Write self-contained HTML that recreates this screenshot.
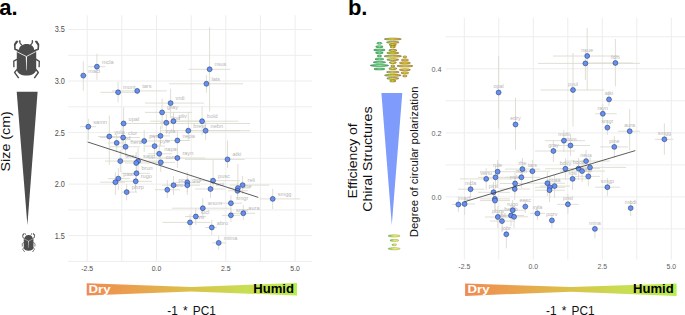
<!DOCTYPE html><html><head><meta charset="utf-8"><style>html,body{margin:0;padding:0;background:#fff;width:685px;height:315px;overflow:hidden;position:relative}svg text{font-family:"Liberation Sans", sans-serif}</style></head><body><svg width="685" height="315" viewBox="0 0 685 315" style="position:absolute;left:0;top:0" font-family='"Liberation Sans", sans-serif'>
<defs>
<linearGradient id="gbar" x1="0" x2="1" y1="0" y2="0"><stop offset="0" stop-color="#F08A52"/><stop offset="0.25" stop-color="#E8A44E"/><stop offset="0.5" stop-color="#DAC24A"/><stop offset="0.75" stop-color="#C8DE52"/><stop offset="1" stop-color="#B8EE50"/></linearGradient>
</defs>
<line x1="87.2" y1="15.2" x2="87.2" y2="261.5" stroke="#EDEDED" stroke-width="1"/>
<line x1="121.8" y1="15.2" x2="121.8" y2="261.5" stroke="#EDEDED" stroke-width="1"/>
<line x1="156.5" y1="15.2" x2="156.5" y2="261.5" stroke="#EDEDED" stroke-width="1"/>
<line x1="191.2" y1="15.2" x2="191.2" y2="261.5" stroke="#EDEDED" stroke-width="1"/>
<line x1="225.8" y1="15.2" x2="225.8" y2="261.5" stroke="#EDEDED" stroke-width="1"/>
<line x1="260.4" y1="15.2" x2="260.4" y2="261.5" stroke="#EDEDED" stroke-width="1"/>
<line x1="295.1" y1="15.2" x2="295.1" y2="261.5" stroke="#EDEDED" stroke-width="1"/>
<line x1="68.3" y1="261.4" x2="312" y2="261.4" stroke="#EDEDED" stroke-width="1"/>
<line x1="68.3" y1="235.6" x2="312" y2="235.6" stroke="#EDEDED" stroke-width="1"/>
<line x1="68.3" y1="209.9" x2="312" y2="209.9" stroke="#EDEDED" stroke-width="1"/>
<line x1="68.3" y1="184.1" x2="312" y2="184.1" stroke="#EDEDED" stroke-width="1"/>
<line x1="68.3" y1="158.3" x2="312" y2="158.3" stroke="#EDEDED" stroke-width="1"/>
<line x1="68.3" y1="132.6" x2="312" y2="132.6" stroke="#EDEDED" stroke-width="1"/>
<line x1="68.3" y1="106.8" x2="312" y2="106.8" stroke="#EDEDED" stroke-width="1"/>
<line x1="68.3" y1="81.0" x2="312" y2="81.0" stroke="#EDEDED" stroke-width="1"/>
<line x1="68.3" y1="55.3" x2="312" y2="55.3" stroke="#EDEDED" stroke-width="1"/>
<line x1="68.3" y1="29.5" x2="312" y2="29.5" stroke="#EDEDED" stroke-width="1"/>
<line x1="464.3" y1="17.7" x2="464.3" y2="259.5" stroke="#EDEDED" stroke-width="1"/>
<line x1="498.8" y1="17.7" x2="498.8" y2="259.5" stroke="#EDEDED" stroke-width="1"/>
<line x1="533.3" y1="17.7" x2="533.3" y2="259.5" stroke="#EDEDED" stroke-width="1"/>
<line x1="567.8" y1="17.7" x2="567.8" y2="259.5" stroke="#EDEDED" stroke-width="1"/>
<line x1="602.3" y1="17.7" x2="602.3" y2="259.5" stroke="#EDEDED" stroke-width="1"/>
<line x1="636.8" y1="17.7" x2="636.8" y2="259.5" stroke="#EDEDED" stroke-width="1"/>
<line x1="671.3" y1="17.7" x2="671.3" y2="259.5" stroke="#EDEDED" stroke-width="1"/>
<line x1="445.5" y1="228.9" x2="685" y2="228.9" stroke="#EDEDED" stroke-width="1"/>
<line x1="445.5" y1="196.9" x2="685" y2="196.9" stroke="#EDEDED" stroke-width="1"/>
<line x1="445.5" y1="164.9" x2="685" y2="164.9" stroke="#EDEDED" stroke-width="1"/>
<line x1="445.5" y1="132.9" x2="685" y2="132.9" stroke="#EDEDED" stroke-width="1"/>
<line x1="445.5" y1="100.8" x2="685" y2="100.8" stroke="#EDEDED" stroke-width="1"/>
<line x1="445.5" y1="68.8" x2="685" y2="68.8" stroke="#EDEDED" stroke-width="1"/>
<line x1="445.5" y1="36.8" x2="685" y2="36.8" stroke="#EDEDED" stroke-width="1"/>
<text x="64.8" y="238.7" font-size="8.6" text-anchor="end" fill="#4D4D4D" transform="translate(64.8,0) scale(0.85,1) translate(-64.8,0)">1.5</text>
<text x="64.8" y="187.2" font-size="8.6" text-anchor="end" fill="#4D4D4D" transform="translate(64.8,0) scale(0.85,1) translate(-64.8,0)">2.0</text>
<text x="64.8" y="135.6" font-size="8.6" text-anchor="end" fill="#4D4D4D" transform="translate(64.8,0) scale(0.85,1) translate(-64.8,0)">2.5</text>
<text x="64.8" y="84.1" font-size="8.6" text-anchor="end" fill="#4D4D4D" transform="translate(64.8,0) scale(0.85,1) translate(-64.8,0)">3.0</text>
<text x="64.8" y="32.5" font-size="8.6" text-anchor="end" fill="#4D4D4D" transform="translate(64.8,0) scale(0.85,1) translate(-64.8,0)">3.5</text>
<text x="87.2" y="270.7" font-size="6.9" text-anchor="middle" fill="#4D4D4D">-2.5</text>
<text x="156.5" y="270.7" font-size="6.9" text-anchor="middle" fill="#4D4D4D">0.0</text>
<text x="225.8" y="270.7" font-size="6.9" text-anchor="middle" fill="#4D4D4D">2.5</text>
<text x="295.1" y="270.7" font-size="6.9" text-anchor="middle" fill="#4D4D4D">5.0</text>
<text x="441.5" y="199.8" font-size="7.2" text-anchor="end" fill="#5E5E5E">0.0</text>
<text x="441.5" y="135.8" font-size="7.2" text-anchor="end" fill="#5E5E5E">0.2</text>
<text x="441.5" y="71.7" font-size="7.2" text-anchor="end" fill="#5E5E5E">0.4</text>
<text x="464.3" y="268.9" font-size="6.9" text-anchor="middle" fill="#5E5E5E">-2.5</text>
<text x="533.3" y="268.9" font-size="6.9" text-anchor="middle" fill="#5E5E5E">0.0</text>
<text x="602.3" y="268.9" font-size="6.9" text-anchor="middle" fill="#5E5E5E">2.5</text>
<text x="671.3" y="268.9" font-size="6.9" text-anchor="middle" fill="#5E5E5E">5.0</text>
<line x1="96.9" y1="53.7" x2="96.9" y2="79.9" stroke="#DCDBCF" stroke-width="0.9"/>
<line x1="87.7" y1="66.7" x2="105.4" y2="66.7" stroke="#DCDBCF" stroke-width="0.9"/>
<line x1="83.3" y1="61.2" x2="83.3" y2="90.7" stroke="#DCDBCF" stroke-width="0.9"/>
<line x1="80.5" y1="75.6" x2="87" y2="75.6" stroke="#DCDBCF" stroke-width="0.9"/>
<line x1="118.1" y1="81.8" x2="118.1" y2="102.5" stroke="#DCDBCF" stroke-width="0.9"/>
<line x1="100.4" y1="92.3" x2="136.8" y2="92.3" stroke="#DCDBCF" stroke-width="0.9"/>
<line x1="137.2" y1="88.7" x2="137.2" y2="94.6" stroke="#DCDBCF" stroke-width="0.9"/>
<line x1="112" y1="90.9" x2="166.7" y2="90.9" stroke="#DCDBCF" stroke-width="0.9"/>
<line x1="209.6" y1="27" x2="209.6" y2="111.4" stroke="#DCDBCF" stroke-width="0.9"/>
<line x1="188.7" y1="69.3" x2="230.2" y2="69.3" stroke="#DCDBCF" stroke-width="0.9"/>
<line x1="206.4" y1="75" x2="206.4" y2="92.7" stroke="#DCDBCF" stroke-width="0.9"/>
<line x1="169" y1="83.8" x2="243.1" y2="83.8" stroke="#DCDBCF" stroke-width="0.9"/>
<line x1="170.6" y1="88.7" x2="170.6" y2="118.3" stroke="#DCDBCF" stroke-width="0.9"/>
<line x1="145" y1="103.1" x2="204" y2="103.1" stroke="#DCDBCF" stroke-width="0.9"/>
<line x1="162.1" y1="98.6" x2="162.1" y2="129" stroke="#DCDBCF" stroke-width="0.9"/>
<line x1="145" y1="112.4" x2="192.2" y2="112.4" stroke="#DCDBCF" stroke-width="0.9"/>
<line x1="173.5" y1="112" x2="173.5" y2="131" stroke="#DCDBCF" stroke-width="0.9"/>
<line x1="150" y1="121.2" x2="200" y2="121.2" stroke="#DCDBCF" stroke-width="0.9"/>
<line x1="166.3" y1="114" x2="166.3" y2="134" stroke="#DCDBCF" stroke-width="0.9"/>
<line x1="160" y1="122.8" x2="172" y2="122.8" stroke="#DCDBCF" stroke-width="0.9"/>
<line x1="202.1" y1="106.4" x2="202.1" y2="135" stroke="#DCDBCF" stroke-width="0.9"/>
<line x1="170" y1="121.2" x2="238.4" y2="121.2" stroke="#DCDBCF" stroke-width="0.9"/>
<line x1="205.6" y1="122" x2="205.6" y2="140" stroke="#DCDBCF" stroke-width="0.9"/>
<line x1="185" y1="130.7" x2="250" y2="130.7" stroke="#DCDBCF" stroke-width="0.9"/>
<line x1="188.3" y1="112" x2="188.3" y2="140" stroke="#DCDBCF" stroke-width="0.9"/>
<line x1="160" y1="130.7" x2="240" y2="130.7" stroke="#DCDBCF" stroke-width="0.9"/>
<line x1="88.3" y1="118.8" x2="88.3" y2="140" stroke="#DCDBCF" stroke-width="0.9"/>
<line x1="80" y1="126.7" x2="96" y2="126.7" stroke="#DCDBCF" stroke-width="0.9"/>
<line x1="123.6" y1="107.4" x2="123.6" y2="142" stroke="#DCDBCF" stroke-width="0.9"/>
<line x1="120" y1="123.5" x2="250" y2="123.5" stroke="#DCDBCF" stroke-width="0.9"/>
<line x1="109.3" y1="115.6" x2="109.3" y2="165" stroke="#DCDBCF" stroke-width="0.9"/>
<line x1="98" y1="136.5" x2="120" y2="136.5" stroke="#DCDBCF" stroke-width="0.9"/>
<line x1="123.1" y1="126" x2="123.1" y2="150" stroke="#DCDBCF" stroke-width="0.9"/>
<line x1="100" y1="137.5" x2="140" y2="137.5" stroke="#DCDBCF" stroke-width="0.9"/>
<line x1="116.7" y1="134" x2="116.7" y2="152" stroke="#DCDBCF" stroke-width="0.9"/>
<line x1="108" y1="142.9" x2="126" y2="142.9" stroke="#DCDBCF" stroke-width="0.9"/>
<line x1="125.6" y1="138" x2="125.6" y2="156" stroke="#DCDBCF" stroke-width="0.9"/>
<line x1="110" y1="146.8" x2="140" y2="146.8" stroke="#DCDBCF" stroke-width="0.9"/>
<line x1="144.2" y1="130" x2="144.2" y2="152" stroke="#DCDBCF" stroke-width="0.9"/>
<line x1="130" y1="141.0" x2="160" y2="141.0" stroke="#DCDBCF" stroke-width="0.9"/>
<line x1="154.6" y1="136" x2="154.6" y2="156" stroke="#DCDBCF" stroke-width="0.9"/>
<line x1="145" y1="146.1" x2="165" y2="146.1" stroke="#DCDBCF" stroke-width="0.9"/>
<line x1="160.5" y1="126" x2="160.5" y2="146" stroke="#DCDBCF" stroke-width="0.9"/>
<line x1="150" y1="135.9" x2="170" y2="135.9" stroke="#DCDBCF" stroke-width="0.9"/>
<line x1="159.2" y1="144" x2="159.2" y2="164" stroke="#DCDBCF" stroke-width="0.9"/>
<line x1="148" y1="153.8" x2="172" y2="153.8" stroke="#DCDBCF" stroke-width="0.9"/>
<line x1="120.3" y1="150" x2="120.3" y2="172" stroke="#DCDBCF" stroke-width="0.9"/>
<line x1="105" y1="161.1" x2="140" y2="161.1" stroke="#DCDBCF" stroke-width="0.9"/>
<line x1="138.1" y1="148" x2="138.1" y2="172" stroke="#DCDBCF" stroke-width="0.9"/>
<line x1="120" y1="161.1" x2="160" y2="161.1" stroke="#DCDBCF" stroke-width="0.9"/>
<line x1="136.2" y1="152" x2="136.2" y2="174" stroke="#DCDBCF" stroke-width="0.9"/>
<line x1="125" y1="163.0" x2="150" y2="163.0" stroke="#DCDBCF" stroke-width="0.9"/>
<line x1="160.8" y1="152" x2="160.8" y2="172" stroke="#DCDBCF" stroke-width="0.9"/>
<line x1="150" y1="162.4" x2="175" y2="162.4" stroke="#DCDBCF" stroke-width="0.9"/>
<line x1="136.5" y1="164" x2="136.5" y2="182" stroke="#DCDBCF" stroke-width="0.9"/>
<line x1="122" y1="173.3" x2="150" y2="173.3" stroke="#DCDBCF" stroke-width="0.9"/>
<line x1="118.3" y1="168" x2="118.3" y2="190" stroke="#DCDBCF" stroke-width="0.9"/>
<line x1="108" y1="178.6" x2="130" y2="178.6" stroke="#DCDBCF" stroke-width="0.9"/>
<line x1="115.4" y1="172" x2="115.4" y2="195" stroke="#DCDBCF" stroke-width="0.9"/>
<line x1="100" y1="182.2" x2="125" y2="182.2" stroke="#DCDBCF" stroke-width="0.9"/>
<line x1="135.7" y1="172" x2="135.7" y2="192" stroke="#DCDBCF" stroke-width="0.9"/>
<line x1="120" y1="181.3" x2="152" y2="181.3" stroke="#DCDBCF" stroke-width="0.9"/>
<line x1="126.7" y1="184" x2="126.7" y2="200.3" stroke="#DCDBCF" stroke-width="0.9"/>
<line x1="121.6" y1="192.1" x2="137.1" y2="192.1" stroke="#DCDBCF" stroke-width="0.9"/>
<line x1="177.4" y1="130" x2="177.4" y2="150" stroke="#DCDBCF" stroke-width="0.9"/>
<line x1="165" y1="140.5" x2="190" y2="140.5" stroke="#DCDBCF" stroke-width="0.9"/>
<line x1="177.4" y1="148" x2="177.4" y2="168" stroke="#DCDBCF" stroke-width="0.9"/>
<line x1="150" y1="158.0" x2="205" y2="158.0" stroke="#DCDBCF" stroke-width="0.9"/>
<line x1="227.5" y1="140.5" x2="227.5" y2="168" stroke="#DCDBCF" stroke-width="0.9"/>
<line x1="185" y1="159.4" x2="244.6" y2="159.4" stroke="#DCDBCF" stroke-width="0.9"/>
<line x1="213.1" y1="160" x2="213.1" y2="190" stroke="#DCDBCF" stroke-width="0.9"/>
<line x1="200" y1="180.7" x2="240" y2="180.7" stroke="#DCDBCF" stroke-width="0.9"/>
<line x1="187.3" y1="172" x2="187.3" y2="192" stroke="#DCDBCF" stroke-width="0.9"/>
<line x1="175" y1="182.4" x2="200" y2="182.4" stroke="#DCDBCF" stroke-width="0.9"/>
<line x1="187.3" y1="176" x2="187.3" y2="195" stroke="#DCDBCF" stroke-width="0.9"/>
<line x1="175" y1="185.2" x2="200" y2="185.2" stroke="#DCDBCF" stroke-width="0.9"/>
<line x1="173.5" y1="176" x2="173.5" y2="195" stroke="#DCDBCF" stroke-width="0.9"/>
<line x1="162" y1="185.2" x2="185" y2="185.2" stroke="#DCDBCF" stroke-width="0.9"/>
<line x1="210.5" y1="178" x2="210.5" y2="198" stroke="#DCDBCF" stroke-width="0.9"/>
<line x1="195" y1="189.0" x2="225" y2="189.0" stroke="#DCDBCF" stroke-width="0.9"/>
<line x1="167.3" y1="180" x2="167.3" y2="198" stroke="#DCDBCF" stroke-width="0.9"/>
<line x1="155" y1="189.8" x2="180" y2="189.8" stroke="#DCDBCF" stroke-width="0.9"/>
<line x1="202.8" y1="198" x2="202.8" y2="218" stroke="#DCDBCF" stroke-width="0.9"/>
<line x1="172" y1="208.2" x2="229.7" y2="208.2" stroke="#DCDBCF" stroke-width="0.9"/>
<line x1="195.8" y1="208" x2="195.8" y2="225" stroke="#DCDBCF" stroke-width="0.9"/>
<line x1="185" y1="216.5" x2="206" y2="216.5" stroke="#DCDBCF" stroke-width="0.9"/>
<line x1="190.0" y1="214" x2="190.0" y2="230" stroke="#DCDBCF" stroke-width="0.9"/>
<line x1="162.5" y1="222.4" x2="210.5" y2="222.4" stroke="#DCDBCF" stroke-width="0.9"/>
<line x1="211.8" y1="220" x2="211.8" y2="235" stroke="#DCDBCF" stroke-width="0.9"/>
<line x1="205.3" y1="227.5" x2="216.9" y2="227.5" stroke="#DCDBCF" stroke-width="0.9"/>
<line x1="218.7" y1="236" x2="218.7" y2="250" stroke="#DCDBCF" stroke-width="0.9"/>
<line x1="212" y1="242.9" x2="226" y2="242.9" stroke="#DCDBCF" stroke-width="0.9"/>
<line x1="230.9" y1="195" x2="230.9" y2="212" stroke="#DCDBCF" stroke-width="0.9"/>
<line x1="220" y1="203.2" x2="242" y2="203.2" stroke="#DCDBCF" stroke-width="0.9"/>
<line x1="230.9" y1="208" x2="230.9" y2="222" stroke="#DCDBCF" stroke-width="0.9"/>
<line x1="222" y1="215.3" x2="240" y2="215.3" stroke="#DCDBCF" stroke-width="0.9"/>
<line x1="243.3" y1="205" x2="243.3" y2="220" stroke="#DCDBCF" stroke-width="0.9"/>
<line x1="232" y1="213.3" x2="255" y2="213.3" stroke="#DCDBCF" stroke-width="0.9"/>
<line x1="242.6" y1="176" x2="242.6" y2="194" stroke="#DCDBCF" stroke-width="0.9"/>
<line x1="230" y1="185.1" x2="269.3" y2="185.1" stroke="#DCDBCF" stroke-width="0.9"/>
<line x1="237.9" y1="163.8" x2="237.9" y2="196" stroke="#DCDBCF" stroke-width="0.9"/>
<line x1="228" y1="188.1" x2="250" y2="188.1" stroke="#DCDBCF" stroke-width="0.9"/>
<line x1="237.5" y1="182" x2="237.5" y2="198" stroke="#DCDBCF" stroke-width="0.9"/>
<line x1="228" y1="190.8" x2="248" y2="190.8" stroke="#DCDBCF" stroke-width="0.9"/>
<line x1="272.7" y1="188.8" x2="272.7" y2="209" stroke="#DCDBCF" stroke-width="0.9"/>
<line x1="259.7" y1="198.9" x2="300.2" y2="198.9" stroke="#DCDBCF" stroke-width="0.9"/>
<text x="101.9" y="63.7" font-size="5.6" fill="#B6B6B6">mcla</text>
<text x="88.3" y="72.6" font-size="5.6" fill="#B6B6B6">macl</text>
<text x="123.1" y="89.3" font-size="5.6" fill="#B6B6B6">mont</text>
<text x="142.2" y="87.9" font-size="5.6" fill="#B6B6B6">tars</text>
<text x="214.6" y="66.3" font-size="5.6" fill="#B6B6B6">nsus</text>
<text x="211.4" y="80.8" font-size="5.6" fill="#B6B6B6">lats</text>
<text x="175.6" y="100.1" font-size="5.6" fill="#B6B6B6">vrdi</text>
<text x="167.1" y="109.4" font-size="5.6" fill="#B6B6B6">gray</text>
<text x="178.5" y="118.2" font-size="5.6" fill="#B6B6B6">pliv</text>
<text x="171.3" y="119.8" font-size="5.6" fill="#B6B6B6">lind</text>
<text x="207.1" y="118.2" font-size="5.6" fill="#B6B6B6">bold</text>
<text x="210.6" y="127.7" font-size="5.6" fill="#B6B6B6">nebn</text>
<text x="193.3" y="127.7" font-size="5.6" fill="#B6B6B6">brevi</text>
<text x="93.3" y="123.7" font-size="5.6" fill="#B6B6B6">samn</text>
<text x="128.6" y="120.5" font-size="5.6" fill="#B6B6B6">opal</text>
<text x="114.3" y="133.5" font-size="5.6" fill="#B6B6B6">yola</text>
<text x="128.1" y="134.5" font-size="5.6" fill="#B6B6B6">clor</text>
<text x="121.7" y="139.9" font-size="5.6" fill="#B6B6B6">jind</text>
<text x="130.6" y="143.8" font-size="5.6" fill="#B6B6B6">hera</text>
<text x="149.2" y="138.0" font-size="5.6" fill="#B6B6B6">pera</text>
<text x="159.6" y="143.1" font-size="5.6" fill="#B6B6B6">pyle</text>
<text x="165.5" y="132.9" font-size="5.6" fill="#B6B6B6">xyla</text>
<text x="164.2" y="150.8" font-size="5.6" fill="#B6B6B6">napa</text>
<text x="125.3" y="158.1" font-size="5.6" fill="#B6B6B6">tenu</text>
<text x="143.1" y="158.1" font-size="5.6" fill="#B6B6B6">sapp</text>
<text x="165.8" y="159.4" font-size="5.6" fill="#B6B6B6">coro</text>
<text x="141.5" y="170.3" font-size="5.6" fill="#B6B6B6">brun</text>
<text x="123.3" y="175.6" font-size="5.6" fill="#B6B6B6">paar</text>
<text x="140.7" y="178.3" font-size="5.6" fill="#B6B6B6">rugo</text>
<text x="131.7" y="189.1" font-size="5.6" fill="#B6B6B6">pbzp</text>
<text x="182.4" y="137.5" font-size="5.6" fill="#B6B6B6">nepa</text>
<text x="182.4" y="155.0" font-size="5.6" fill="#B6B6B6">rayn</text>
<text x="232.5" y="156.4" font-size="5.6" fill="#B6B6B6">atki</text>
<text x="218.1" y="177.7" font-size="5.6" fill="#B6B6B6">pusc</text>
<text x="192.3" y="182.2" font-size="5.6" fill="#B6B6B6">gigl</text>
<text x="178.5" y="182.2" font-size="5.6" fill="#B6B6B6">pcni</text>
<text x="215.5" y="186.0" font-size="5.6" fill="#B6B6B6">smi</text>
<text x="172.3" y="186.8" font-size="5.6" fill="#B6B6B6">caro</text>
<text x="207.8" y="205.2" font-size="5.6" fill="#B6B6B6">anom</text>
<text x="200.8" y="213.5" font-size="5.6" fill="#B6B6B6">lucl</text>
<text x="195.0" y="219.4" font-size="5.6" fill="#B6B6B6">rivo</text>
<text x="216.8" y="224.5" font-size="5.6" fill="#B6B6B6">abro</text>
<text x="223.7" y="239.9" font-size="5.6" fill="#B6B6B6">mima</text>
<text x="235.9" y="200.2" font-size="5.6" fill="#B6B6B6">smgr</text>
<text x="235.9" y="212.3" font-size="5.6" fill="#B6B6B6">smer</text>
<text x="248.3" y="210.3" font-size="5.6" fill="#B6B6B6">aura</text>
<text x="247.6" y="182.1" font-size="5.6" fill="#B6B6B6">reli</text>
<text x="242.5" y="187.8" font-size="5.6" fill="#B6B6B6">tine</text>
<text x="277.7" y="195.9" font-size="5.6" fill="#B6B6B6">smgg</text>
<circle cx="96.9" cy="66.7" r="2.45" fill="#6490F6" stroke="#2A3A6E" stroke-width="0.6"/>
<circle cx="83.3" cy="75.6" r="2.45" fill="#6490F6" stroke="#2A3A6E" stroke-width="0.6"/>
<circle cx="118.1" cy="92.3" r="2.45" fill="#6490F6" stroke="#2A3A6E" stroke-width="0.6"/>
<circle cx="137.2" cy="90.9" r="2.45" fill="#6490F6" stroke="#2A3A6E" stroke-width="0.6"/>
<circle cx="209.6" cy="69.3" r="2.45" fill="#6490F6" stroke="#2A3A6E" stroke-width="0.6"/>
<circle cx="206.4" cy="83.8" r="2.45" fill="#6490F6" stroke="#2A3A6E" stroke-width="0.6"/>
<circle cx="170.6" cy="103.1" r="2.45" fill="#6490F6" stroke="#2A3A6E" stroke-width="0.6"/>
<circle cx="162.1" cy="112.4" r="2.45" fill="#6490F6" stroke="#2A3A6E" stroke-width="0.6"/>
<circle cx="173.5" cy="121.2" r="2.45" fill="#6490F6" stroke="#2A3A6E" stroke-width="0.6"/>
<circle cx="166.3" cy="122.8" r="2.45" fill="#6490F6" stroke="#2A3A6E" stroke-width="0.6"/>
<circle cx="202.1" cy="121.2" r="2.45" fill="#6490F6" stroke="#2A3A6E" stroke-width="0.6"/>
<circle cx="205.6" cy="130.7" r="2.45" fill="#6490F6" stroke="#2A3A6E" stroke-width="0.6"/>
<circle cx="188.3" cy="130.7" r="2.45" fill="#6490F6" stroke="#2A3A6E" stroke-width="0.6"/>
<circle cx="88.3" cy="126.7" r="2.45" fill="#6490F6" stroke="#2A3A6E" stroke-width="0.6"/>
<circle cx="123.6" cy="123.5" r="2.45" fill="#6490F6" stroke="#2A3A6E" stroke-width="0.6"/>
<circle cx="109.3" cy="136.5" r="2.45" fill="#6490F6" stroke="#2A3A6E" stroke-width="0.6"/>
<circle cx="123.1" cy="137.5" r="2.45" fill="#6490F6" stroke="#2A3A6E" stroke-width="0.6"/>
<circle cx="116.7" cy="142.9" r="2.45" fill="#6490F6" stroke="#2A3A6E" stroke-width="0.6"/>
<circle cx="125.6" cy="146.8" r="2.45" fill="#6490F6" stroke="#2A3A6E" stroke-width="0.6"/>
<circle cx="144.2" cy="141.0" r="2.45" fill="#6490F6" stroke="#2A3A6E" stroke-width="0.6"/>
<circle cx="154.6" cy="146.1" r="2.45" fill="#6490F6" stroke="#2A3A6E" stroke-width="0.6"/>
<circle cx="160.5" cy="135.9" r="2.45" fill="#6490F6" stroke="#2A3A6E" stroke-width="0.6"/>
<circle cx="159.2" cy="153.8" r="2.45" fill="#6490F6" stroke="#2A3A6E" stroke-width="0.6"/>
<circle cx="120.3" cy="161.1" r="2.45" fill="#6490F6" stroke="#2A3A6E" stroke-width="0.6"/>
<circle cx="138.1" cy="161.1" r="2.45" fill="#6490F6" stroke="#2A3A6E" stroke-width="0.6"/>
<circle cx="136.2" cy="163.0" r="2.45" fill="#6490F6" stroke="#2A3A6E" stroke-width="0.6"/>
<circle cx="160.8" cy="162.4" r="2.45" fill="#6490F6" stroke="#2A3A6E" stroke-width="0.6"/>
<circle cx="136.5" cy="173.3" r="2.45" fill="#6490F6" stroke="#2A3A6E" stroke-width="0.6"/>
<circle cx="118.3" cy="178.6" r="2.45" fill="#6490F6" stroke="#2A3A6E" stroke-width="0.6"/>
<circle cx="115.4" cy="182.2" r="2.45" fill="#6490F6" stroke="#2A3A6E" stroke-width="0.6"/>
<circle cx="135.7" cy="181.3" r="2.45" fill="#6490F6" stroke="#2A3A6E" stroke-width="0.6"/>
<circle cx="126.7" cy="192.1" r="2.45" fill="#6490F6" stroke="#2A3A6E" stroke-width="0.6"/>
<circle cx="177.4" cy="140.5" r="2.45" fill="#6490F6" stroke="#2A3A6E" stroke-width="0.6"/>
<circle cx="177.4" cy="158.0" r="2.45" fill="#6490F6" stroke="#2A3A6E" stroke-width="0.6"/>
<circle cx="227.5" cy="159.4" r="2.45" fill="#6490F6" stroke="#2A3A6E" stroke-width="0.6"/>
<circle cx="213.1" cy="180.7" r="2.45" fill="#6490F6" stroke="#2A3A6E" stroke-width="0.6"/>
<circle cx="187.3" cy="182.4" r="2.45" fill="#6490F6" stroke="#2A3A6E" stroke-width="0.6"/>
<circle cx="187.3" cy="185.2" r="2.45" fill="#6490F6" stroke="#2A3A6E" stroke-width="0.6"/>
<circle cx="173.5" cy="185.2" r="2.45" fill="#6490F6" stroke="#2A3A6E" stroke-width="0.6"/>
<circle cx="210.5" cy="189.0" r="2.45" fill="#6490F6" stroke="#2A3A6E" stroke-width="0.6"/>
<circle cx="167.3" cy="189.8" r="2.45" fill="#6490F6" stroke="#2A3A6E" stroke-width="0.6"/>
<circle cx="202.8" cy="208.2" r="2.45" fill="#6490F6" stroke="#2A3A6E" stroke-width="0.6"/>
<circle cx="195.8" cy="216.5" r="2.45" fill="#6490F6" stroke="#2A3A6E" stroke-width="0.6"/>
<circle cx="190.0" cy="222.4" r="2.45" fill="#6490F6" stroke="#2A3A6E" stroke-width="0.6"/>
<circle cx="211.8" cy="227.5" r="2.45" fill="#6490F6" stroke="#2A3A6E" stroke-width="0.6"/>
<circle cx="218.7" cy="242.9" r="2.45" fill="#6490F6" stroke="#2A3A6E" stroke-width="0.6"/>
<circle cx="230.9" cy="203.2" r="2.45" fill="#6490F6" stroke="#2A3A6E" stroke-width="0.6"/>
<circle cx="230.9" cy="215.3" r="2.45" fill="#6490F6" stroke="#2A3A6E" stroke-width="0.6"/>
<circle cx="243.3" cy="213.3" r="2.45" fill="#6490F6" stroke="#2A3A6E" stroke-width="0.6"/>
<circle cx="242.6" cy="185.1" r="2.45" fill="#6490F6" stroke="#2A3A6E" stroke-width="0.6"/>
<circle cx="237.9" cy="188.1" r="2.45" fill="#6490F6" stroke="#2A3A6E" stroke-width="0.6"/>
<circle cx="237.5" cy="190.8" r="2.45" fill="#6490F6" stroke="#2A3A6E" stroke-width="0.6"/>
<circle cx="272.7" cy="198.9" r="2.45" fill="#6490F6" stroke="#2A3A6E" stroke-width="0.6"/>
<line x1="498.6" y1="56" x2="498.6" y2="128.6" stroke="#DCDBCF" stroke-width="0.9"/>
<line x1="515.5" y1="97.7" x2="515.5" y2="150" stroke="#DCDBCF" stroke-width="0.9"/>
<line x1="587.2" y1="28" x2="587.2" y2="90" stroke="#DCDBCF" stroke-width="0.9"/>
<line x1="553" y1="56.0" x2="619" y2="56.0" stroke="#DCDBCF" stroke-width="0.9"/>
<line x1="585.4" y1="50" x2="585.4" y2="80" stroke="#DCDBCF" stroke-width="0.9"/>
<line x1="538" y1="63.4" x2="640" y2="63.4" stroke="#DCDBCF" stroke-width="0.9"/>
<line x1="615.4" y1="39" x2="615.4" y2="86.4" stroke="#DCDBCF" stroke-width="0.9"/>
<line x1="587" y1="63.0" x2="633" y2="63.0" stroke="#DCDBCF" stroke-width="0.9"/>
<line x1="573.0" y1="53" x2="573.0" y2="126.5" stroke="#DCDBCF" stroke-width="0.9"/>
<line x1="540.6" y1="90.0" x2="604.3" y2="90.0" stroke="#DCDBCF" stroke-width="0.9"/>
<line x1="609.0" y1="92" x2="609.0" y2="106" stroke="#DCDBCF" stroke-width="0.9"/>
<line x1="602.8" y1="104" x2="602.8" y2="124" stroke="#DCDBCF" stroke-width="0.9"/>
<line x1="595" y1="113.8" x2="616.7" y2="113.8" stroke="#DCDBCF" stroke-width="0.9"/>
<line x1="607.4" y1="120" x2="607.4" y2="135" stroke="#DCDBCF" stroke-width="0.9"/>
<line x1="629.7" y1="109" x2="629.7" y2="150.6" stroke="#DCDBCF" stroke-width="0.9"/>
<line x1="618" y1="131.2" x2="640" y2="131.2" stroke="#DCDBCF" stroke-width="0.9"/>
<line x1="664.4" y1="123.5" x2="664.4" y2="154.8" stroke="#DCDBCF" stroke-width="0.9"/>
<line x1="654.9" y1="139.3" x2="673.4" y2="139.3" stroke="#DCDBCF" stroke-width="0.9"/>
<line x1="614.3" y1="136" x2="614.3" y2="158" stroke="#DCDBCF" stroke-width="0.9"/>
<line x1="600" y1="146.9" x2="628" y2="146.9" stroke="#DCDBCF" stroke-width="0.9"/>
<line x1="563.9" y1="130" x2="563.9" y2="152" stroke="#DCDBCF" stroke-width="0.9"/>
<line x1="545" y1="140.7" x2="585" y2="140.7" stroke="#DCDBCF" stroke-width="0.9"/>
<line x1="570.5" y1="134" x2="570.5" y2="156" stroke="#DCDBCF" stroke-width="0.9"/>
<line x1="555" y1="145.5" x2="590" y2="145.5" stroke="#DCDBCF" stroke-width="0.9"/>
<line x1="553.4" y1="140" x2="553.4" y2="162" stroke="#DCDBCF" stroke-width="0.9"/>
<line x1="535" y1="151.0" x2="575" y2="151.0" stroke="#DCDBCF" stroke-width="0.9"/>
<line x1="586.1" y1="150" x2="586.1" y2="172" stroke="#DCDBCF" stroke-width="0.9"/>
<line x1="565" y1="161.1" x2="610" y2="161.1" stroke="#DCDBCF" stroke-width="0.9"/>
<line x1="565.4" y1="158" x2="565.4" y2="180" stroke="#DCDBCF" stroke-width="0.9"/>
<line x1="545" y1="168.8" x2="590" y2="168.8" stroke="#DCDBCF" stroke-width="0.9"/>
<line x1="578.6" y1="158" x2="578.6" y2="180" stroke="#DCDBCF" stroke-width="0.9"/>
<line x1="560" y1="168.6" x2="600" y2="168.6" stroke="#DCDBCF" stroke-width="0.9"/>
<line x1="582.1" y1="160" x2="582.1" y2="182" stroke="#DCDBCF" stroke-width="0.9"/>
<line x1="560" y1="171.1" x2="605" y2="171.1" stroke="#DCDBCF" stroke-width="0.9"/>
<line x1="590.0" y1="156" x2="590.0" y2="180" stroke="#DCDBCF" stroke-width="0.9"/>
<line x1="575" y1="167.4" x2="626" y2="167.4" stroke="#DCDBCF" stroke-width="0.9"/>
<line x1="588.3" y1="166" x2="588.3" y2="186" stroke="#DCDBCF" stroke-width="0.9"/>
<line x1="575" y1="176.4" x2="600" y2="176.4" stroke="#DCDBCF" stroke-width="0.9"/>
<line x1="572.6" y1="168" x2="572.6" y2="190" stroke="#DCDBCF" stroke-width="0.9"/>
<line x1="555" y1="178.9" x2="590" y2="178.9" stroke="#DCDBCF" stroke-width="0.9"/>
<line x1="532.4" y1="160" x2="532.4" y2="182" stroke="#DCDBCF" stroke-width="0.9"/>
<line x1="515" y1="171.2" x2="550" y2="171.2" stroke="#DCDBCF" stroke-width="0.9"/>
<line x1="522.4" y1="158" x2="522.4" y2="180" stroke="#DCDBCF" stroke-width="0.9"/>
<line x1="505" y1="169.1" x2="540" y2="169.1" stroke="#DCDBCF" stroke-width="0.9"/>
<line x1="521.4" y1="166" x2="521.4" y2="188" stroke="#DCDBCF" stroke-width="0.9"/>
<line x1="505" y1="177.3" x2="540" y2="177.3" stroke="#DCDBCF" stroke-width="0.9"/>
<line x1="497.6" y1="160" x2="497.6" y2="184" stroke="#DCDBCF" stroke-width="0.9"/>
<line x1="480" y1="171.7" x2="515" y2="171.7" stroke="#DCDBCF" stroke-width="0.9"/>
<line x1="486.2" y1="168" x2="486.2" y2="190" stroke="#DCDBCF" stroke-width="0.9"/>
<line x1="460" y1="178.9" x2="510" y2="178.9" stroke="#DCDBCF" stroke-width="0.9"/>
<line x1="495.5" y1="166" x2="495.5" y2="188" stroke="#DCDBCF" stroke-width="0.9"/>
<line x1="478" y1="177.3" x2="512" y2="177.3" stroke="#DCDBCF" stroke-width="0.9"/>
<line x1="515.1" y1="172" x2="515.1" y2="194" stroke="#DCDBCF" stroke-width="0.9"/>
<line x1="500" y1="183.5" x2="530" y2="183.5" stroke="#DCDBCF" stroke-width="0.9"/>
<line x1="514.7" y1="178" x2="514.7" y2="200" stroke="#DCDBCF" stroke-width="0.9"/>
<line x1="500" y1="189.0" x2="530" y2="189.0" stroke="#DCDBCF" stroke-width="0.9"/>
<line x1="470.6" y1="180" x2="470.6" y2="198" stroke="#DCDBCF" stroke-width="0.9"/>
<line x1="458" y1="189.2" x2="484" y2="189.2" stroke="#DCDBCF" stroke-width="0.9"/>
<line x1="493.5" y1="182" x2="493.5" y2="202" stroke="#DCDBCF" stroke-width="0.9"/>
<line x1="478" y1="192.3" x2="510" y2="192.3" stroke="#DCDBCF" stroke-width="0.9"/>
<line x1="494.9" y1="188" x2="494.9" y2="210" stroke="#DCDBCF" stroke-width="0.9"/>
<line x1="480" y1="198.9" x2="510" y2="198.9" stroke="#DCDBCF" stroke-width="0.9"/>
<line x1="495.0" y1="190" x2="495.0" y2="212" stroke="#DCDBCF" stroke-width="0.9"/>
<line x1="480" y1="200.6" x2="510" y2="200.6" stroke="#DCDBCF" stroke-width="0.9"/>
<line x1="458.4" y1="196" x2="458.4" y2="212" stroke="#DCDBCF" stroke-width="0.9"/>
<line x1="452" y1="204.5" x2="466" y2="204.5" stroke="#DCDBCF" stroke-width="0.9"/>
<line x1="464.6" y1="196" x2="464.6" y2="215" stroke="#DCDBCF" stroke-width="0.9"/>
<line x1="455" y1="204.0" x2="475" y2="204.0" stroke="#DCDBCF" stroke-width="0.9"/>
<line x1="512.7" y1="200" x2="512.7" y2="220" stroke="#DCDBCF" stroke-width="0.9"/>
<line x1="500" y1="210.2" x2="525" y2="210.2" stroke="#DCDBCF" stroke-width="0.9"/>
<line x1="511.0" y1="205" x2="511.0" y2="226" stroke="#DCDBCF" stroke-width="0.9"/>
<line x1="498" y1="215.5" x2="524" y2="215.5" stroke="#DCDBCF" stroke-width="0.9"/>
<line x1="514.1" y1="206" x2="514.1" y2="228" stroke="#DCDBCF" stroke-width="0.9"/>
<line x1="500" y1="216.8" x2="528" y2="216.8" stroke="#DCDBCF" stroke-width="0.9"/>
<line x1="497.8" y1="206" x2="497.8" y2="228" stroke="#DCDBCF" stroke-width="0.9"/>
<line x1="485" y1="217.0" x2="510" y2="217.0" stroke="#DCDBCF" stroke-width="0.9"/>
<line x1="502.0" y1="210" x2="502.0" y2="232" stroke="#DCDBCF" stroke-width="0.9"/>
<line x1="490" y1="221.1" x2="515" y2="221.1" stroke="#DCDBCF" stroke-width="0.9"/>
<line x1="506.3" y1="229.8" x2="506.3" y2="248.4" stroke="#DCDBCF" stroke-width="0.9"/>
<line x1="525.3" y1="200" x2="525.3" y2="213" stroke="#DCDBCF" stroke-width="0.9"/>
<line x1="547.4" y1="172" x2="547.4" y2="196" stroke="#DCDBCF" stroke-width="0.9"/>
<line x1="530" y1="183.2" x2="565" y2="183.2" stroke="#DCDBCF" stroke-width="0.9"/>
<line x1="554.6" y1="175" x2="554.6" y2="198" stroke="#DCDBCF" stroke-width="0.9"/>
<line x1="540" y1="186.1" x2="570" y2="186.1" stroke="#DCDBCF" stroke-width="0.9"/>
<line x1="549.9" y1="176" x2="549.9" y2="198" stroke="#DCDBCF" stroke-width="0.9"/>
<line x1="535" y1="187.3" x2="565" y2="187.3" stroke="#DCDBCF" stroke-width="0.9"/>
<line x1="549.5" y1="180" x2="549.5" y2="202" stroke="#DCDBCF" stroke-width="0.9"/>
<line x1="535" y1="190.2" x2="565" y2="190.2" stroke="#DCDBCF" stroke-width="0.9"/>
<line x1="537.4" y1="206" x2="537.4" y2="220" stroke="#DCDBCF" stroke-width="0.9"/>
<line x1="530" y1="213.4" x2="545" y2="213.4" stroke="#DCDBCF" stroke-width="0.9"/>
<line x1="551.9" y1="213" x2="551.9" y2="228" stroke="#DCDBCF" stroke-width="0.9"/>
<line x1="567.9" y1="194" x2="567.9" y2="214" stroke="#DCDBCF" stroke-width="0.9"/>
<line x1="557.2" y1="204.3" x2="578.5" y2="204.3" stroke="#DCDBCF" stroke-width="0.9"/>
<line x1="594.9" y1="225.6" x2="594.9" y2="238.4" stroke="#DCDBCF" stroke-width="0.9"/>
<line x1="607.4" y1="178" x2="607.4" y2="196" stroke="#DCDBCF" stroke-width="0.9"/>
<line x1="595" y1="187.2" x2="620" y2="187.2" stroke="#DCDBCF" stroke-width="0.9"/>
<line x1="630.7" y1="200" x2="630.7" y2="216" stroke="#DCDBCF" stroke-width="0.9"/>
<text x="498.6" y="88.2" font-size="5.4" text-anchor="middle" fill="#B6B6B6">opal</text>
<text x="515.5" y="120.2" font-size="5.4" text-anchor="middle" fill="#B6B6B6">edry</text>
<text x="587.2" y="51.7" font-size="5.4" text-anchor="middle" fill="#B6B6B6">nsue</text>
<text x="615.4" y="58.7" font-size="5.4" text-anchor="middle" fill="#B6B6B6">fdhi</text>
<text x="573.0" y="85.7" font-size="5.4" text-anchor="middle" fill="#B6B6B6">pyul</text>
<text x="609.0" y="95.1" font-size="5.4" text-anchor="middle" fill="#B6B6B6">atki</text>
<text x="602.8" y="109.5" font-size="5.4" text-anchor="middle" fill="#B6B6B6">rayn</text>
<text x="607.4" y="123.3" font-size="5.4" text-anchor="middle" fill="#B6B6B6">smgr</text>
<text x="629.7" y="126.9" font-size="5.4" text-anchor="middle" fill="#B6B6B6">aura</text>
<text x="664.4" y="135.0" font-size="5.4" text-anchor="middle" fill="#B6B6B6">smgg</text>
<text x="614.3" y="142.6" font-size="5.4" text-anchor="middle" fill="#B6B6B6">pine</text>
<text x="563.9" y="136.4" font-size="5.4" text-anchor="middle" fill="#B6B6B6">multi</text>
<text x="570.5" y="141.2" font-size="5.4" text-anchor="middle" fill="#B6B6B6">atom</text>
<text x="553.4" y="146.7" font-size="5.4" text-anchor="middle" fill="#B6B6B6">gray</text>
<text x="586.1" y="156.8" font-size="5.4" text-anchor="middle" fill="#B6B6B6">neus</text>
<text x="565.4" y="164.5" font-size="5.4" text-anchor="middle" fill="#B6B6B6">bdvy</text>
<text x="578.6" y="164.3" font-size="5.4" text-anchor="middle" fill="#B6B6B6">bqcq</text>
<text x="588.3" y="172.1" font-size="5.4" text-anchor="middle" fill="#B6B6B6">iho</text>
<text x="572.6" y="174.6" font-size="5.4" text-anchor="middle" fill="#B6B6B6">rcsi</text>
<text x="532.4" y="166.9" font-size="5.4" text-anchor="middle" fill="#B6B6B6">tars</text>
<text x="522.4" y="164.8" font-size="5.4" text-anchor="middle" fill="#B6B6B6">rhe</text>
<text x="521.4" y="173.0" font-size="5.4" text-anchor="middle" fill="#B6B6B6">nom</text>
<text x="497.6" y="167.4" font-size="5.4" text-anchor="middle" fill="#B6B6B6">rule</text>
<text x="486.2" y="174.6" font-size="5.4" text-anchor="middle" fill="#B6B6B6">venu</text>
<text x="515.1" y="179.2" font-size="5.4" text-anchor="middle" fill="#B6B6B6">pale</text>
<text x="470.6" y="184.9" font-size="5.4" text-anchor="middle" fill="#B6B6B6">mcla</text>
<text x="493.5" y="188.0" font-size="5.4" text-anchor="middle" fill="#B6B6B6">pinil</text>
<text x="464.6" y="199.7" font-size="5.4" text-anchor="middle" fill="#B6B6B6">macl</text>
<text x="512.7" y="205.9" font-size="5.4" text-anchor="middle" fill="#B6B6B6">rugo</text>
<text x="511.0" y="211.2" font-size="5.4" text-anchor="middle" fill="#B6B6B6">bemb</text>
<text x="497.8" y="212.7" font-size="5.4" text-anchor="middle" fill="#B6B6B6">pbzp</text>
<text x="502.0" y="216.8" font-size="5.4" text-anchor="middle" fill="#B6B6B6">poli</text>
<text x="506.3" y="230.0" font-size="5.4" text-anchor="middle" fill="#B6B6B6">jobr</text>
<text x="525.3" y="202.3" font-size="5.4" text-anchor="middle" fill="#B6B6B6">eesc</text>
<text x="554.6" y="181.8" font-size="5.4" text-anchor="middle" fill="#B6B6B6">pbaa</text>
<text x="537.4" y="209.1" font-size="5.4" text-anchor="middle" fill="#B6B6B6">xyla</text>
<text x="551.9" y="216.1" font-size="5.4" text-anchor="middle" fill="#B6B6B6">pczv</text>
<text x="567.9" y="200.0" font-size="5.4" text-anchor="middle" fill="#B6B6B6">pnsl</text>
<text x="594.9" y="224.6" font-size="5.4" text-anchor="middle" fill="#B6B6B6">mina</text>
<text x="607.4" y="182.9" font-size="5.4" text-anchor="middle" fill="#B6B6B6">smgp</text>
<text x="630.7" y="203.8" font-size="5.4" text-anchor="middle" fill="#B6B6B6">modi</text>
<circle cx="498.6" cy="92.5" r="2.45" fill="#6490F6" stroke="#2A3A6E" stroke-width="0.6"/>
<circle cx="515.5" cy="124.5" r="2.45" fill="#6490F6" stroke="#2A3A6E" stroke-width="0.6"/>
<circle cx="587.2" cy="56.0" r="2.45" fill="#6490F6" stroke="#2A3A6E" stroke-width="0.6"/>
<circle cx="585.4" cy="63.4" r="2.45" fill="#6490F6" stroke="#2A3A6E" stroke-width="0.6"/>
<circle cx="615.4" cy="63.0" r="2.45" fill="#6490F6" stroke="#2A3A6E" stroke-width="0.6"/>
<circle cx="573.0" cy="90.0" r="2.45" fill="#6490F6" stroke="#2A3A6E" stroke-width="0.6"/>
<circle cx="609.0" cy="99.4" r="2.45" fill="#6490F6" stroke="#2A3A6E" stroke-width="0.6"/>
<circle cx="602.8" cy="113.8" r="2.45" fill="#6490F6" stroke="#2A3A6E" stroke-width="0.6"/>
<circle cx="607.4" cy="127.6" r="2.45" fill="#6490F6" stroke="#2A3A6E" stroke-width="0.6"/>
<circle cx="629.7" cy="131.2" r="2.45" fill="#6490F6" stroke="#2A3A6E" stroke-width="0.6"/>
<circle cx="664.4" cy="139.3" r="2.45" fill="#6490F6" stroke="#2A3A6E" stroke-width="0.6"/>
<circle cx="614.3" cy="146.9" r="2.45" fill="#6490F6" stroke="#2A3A6E" stroke-width="0.6"/>
<circle cx="563.9" cy="140.7" r="2.45" fill="#6490F6" stroke="#2A3A6E" stroke-width="0.6"/>
<circle cx="570.5" cy="145.5" r="2.45" fill="#6490F6" stroke="#2A3A6E" stroke-width="0.6"/>
<circle cx="553.4" cy="151.0" r="2.45" fill="#6490F6" stroke="#2A3A6E" stroke-width="0.6"/>
<circle cx="586.1" cy="161.1" r="2.45" fill="#6490F6" stroke="#2A3A6E" stroke-width="0.6"/>
<circle cx="565.4" cy="168.8" r="2.45" fill="#6490F6" stroke="#2A3A6E" stroke-width="0.6"/>
<circle cx="578.6" cy="168.6" r="2.45" fill="#6490F6" stroke="#2A3A6E" stroke-width="0.6"/>
<circle cx="582.1" cy="171.1" r="2.45" fill="#6490F6" stroke="#2A3A6E" stroke-width="0.6"/>
<circle cx="590.0" cy="167.4" r="2.45" fill="#6490F6" stroke="#2A3A6E" stroke-width="0.6"/>
<circle cx="588.3" cy="176.4" r="2.45" fill="#6490F6" stroke="#2A3A6E" stroke-width="0.6"/>
<circle cx="572.6" cy="178.9" r="2.45" fill="#6490F6" stroke="#2A3A6E" stroke-width="0.6"/>
<circle cx="532.4" cy="171.2" r="2.45" fill="#6490F6" stroke="#2A3A6E" stroke-width="0.6"/>
<circle cx="522.4" cy="169.1" r="2.45" fill="#6490F6" stroke="#2A3A6E" stroke-width="0.6"/>
<circle cx="521.4" cy="177.3" r="2.45" fill="#6490F6" stroke="#2A3A6E" stroke-width="0.6"/>
<circle cx="497.6" cy="171.7" r="2.45" fill="#6490F6" stroke="#2A3A6E" stroke-width="0.6"/>
<circle cx="486.2" cy="178.9" r="2.45" fill="#6490F6" stroke="#2A3A6E" stroke-width="0.6"/>
<circle cx="495.5" cy="177.3" r="2.45" fill="#6490F6" stroke="#2A3A6E" stroke-width="0.6"/>
<circle cx="515.1" cy="183.5" r="2.45" fill="#6490F6" stroke="#2A3A6E" stroke-width="0.6"/>
<circle cx="514.7" cy="189.0" r="2.45" fill="#6490F6" stroke="#2A3A6E" stroke-width="0.6"/>
<circle cx="470.6" cy="189.2" r="2.45" fill="#6490F6" stroke="#2A3A6E" stroke-width="0.6"/>
<circle cx="493.5" cy="192.3" r="2.45" fill="#6490F6" stroke="#2A3A6E" stroke-width="0.6"/>
<circle cx="494.9" cy="198.9" r="2.45" fill="#6490F6" stroke="#2A3A6E" stroke-width="0.6"/>
<circle cx="495.0" cy="200.6" r="2.45" fill="#6490F6" stroke="#2A3A6E" stroke-width="0.6"/>
<circle cx="458.4" cy="204.5" r="2.45" fill="#6490F6" stroke="#2A3A6E" stroke-width="0.6"/>
<circle cx="464.6" cy="204.0" r="2.45" fill="#6490F6" stroke="#2A3A6E" stroke-width="0.6"/>
<circle cx="512.7" cy="210.2" r="2.45" fill="#6490F6" stroke="#2A3A6E" stroke-width="0.6"/>
<circle cx="511.0" cy="215.5" r="2.45" fill="#6490F6" stroke="#2A3A6E" stroke-width="0.6"/>
<circle cx="514.1" cy="216.8" r="2.45" fill="#6490F6" stroke="#2A3A6E" stroke-width="0.6"/>
<circle cx="497.8" cy="217.0" r="2.45" fill="#6490F6" stroke="#2A3A6E" stroke-width="0.6"/>
<circle cx="502.0" cy="221.1" r="2.45" fill="#6490F6" stroke="#2A3A6E" stroke-width="0.6"/>
<circle cx="506.3" cy="234.3" r="2.45" fill="#6490F6" stroke="#2A3A6E" stroke-width="0.6"/>
<circle cx="525.3" cy="206.6" r="2.45" fill="#6490F6" stroke="#2A3A6E" stroke-width="0.6"/>
<circle cx="547.4" cy="183.2" r="2.45" fill="#6490F6" stroke="#2A3A6E" stroke-width="0.6"/>
<circle cx="554.6" cy="186.1" r="2.45" fill="#6490F6" stroke="#2A3A6E" stroke-width="0.6"/>
<circle cx="549.9" cy="187.3" r="2.45" fill="#6490F6" stroke="#2A3A6E" stroke-width="0.6"/>
<circle cx="549.5" cy="190.2" r="2.45" fill="#6490F6" stroke="#2A3A6E" stroke-width="0.6"/>
<circle cx="537.4" cy="213.4" r="2.45" fill="#6490F6" stroke="#2A3A6E" stroke-width="0.6"/>
<circle cx="551.9" cy="220.4" r="2.45" fill="#6490F6" stroke="#2A3A6E" stroke-width="0.6"/>
<circle cx="567.9" cy="204.3" r="2.45" fill="#6490F6" stroke="#2A3A6E" stroke-width="0.6"/>
<circle cx="594.9" cy="228.9" r="2.45" fill="#6490F6" stroke="#2A3A6E" stroke-width="0.6"/>
<circle cx="607.4" cy="187.2" r="2.45" fill="#6490F6" stroke="#2A3A6E" stroke-width="0.6"/>
<circle cx="630.7" cy="208.1" r="2.45" fill="#6490F6" stroke="#2A3A6E" stroke-width="0.6"/>
<line x1="87.7" y1="142" x2="258.3" y2="197.4" stroke="#333" stroke-width="0.8"/>
<line x1="464.6" y1="201.7" x2="635.3" y2="150.6" stroke="#333" stroke-width="0.8"/>
<text x="-0.8" y="14.9" font-size="22" font-weight="bold" fill="#000">a.</text>
<text x="347.9" y="14.9" font-size="22" font-weight="bold" fill="#000">b.</text>
<g transform="translate(0,0)">
<path d="M19,50.2 C19,46.2 22.5,44 26.6,44 C30.7,44 34.2,46.2 34.2,50.2 L36.2,51.4 L36.2,69 C36.2,73.6 31.5,75.6 26.5,75.6 C21.5,75.6 16.8,73.6 16.8,69 L16.8,51.4 Z" fill="#4C4C4C"/>
<g fill="none" stroke="#4C4C4C" stroke-linejoin="round" stroke-linecap="butt">
<path d="M19.9,40.2 C19.3,42.2 20.2,43.8 21.8,45" stroke-width="1.3"/>
<path d="M32.3,40.2 C32.9,42.2 32,43.8 30.4,45" stroke-width="1.3"/>
<path d="M16.9,41 L14.7,44.4 L15,49.3 L19.6,50.9" stroke-width="1.6"/>
<path d="M36.3,41 L38.5,44.4 L38.2,49.3 L33.6,50.9" stroke-width="1.6"/>
<path d="M17.3,40.6 L14.2,44.6 L15.4,45.6 L18.4,41.6 Z" stroke="none" fill="#4C4C4C"/>
<path d="M35.9,40.6 L39.0,44.6 L37.8,45.6 L34.8,41.6 Z" stroke="none" fill="#4C4C4C"/>
<path d="M17.4,59.2 L13.8,61.2 L13.9,67.2" stroke-width="1.35"/>
<path d="M35.8,59.2 L39.3,61.3 L39.1,67.3" stroke-width="1.35"/>
<path d="M17.8,68.6 L14.6,72.4 L18.7,78.2" stroke-width="1.45"/>
<path d="M35.3,68.6 L38.3,72.5 L34.3,78.2" stroke-width="1.45"/>
</g>
<path d="M17.2,51.9 L26.4,56.5 L35.6,51.7" fill="none" stroke="#fff" stroke-width="0.8"/>
<path d="M25.8,56.4 L27,56.4 L26.6,70.2 L26.2,70.2 Z" fill="#fff"/>
</g>
<polygon points="16.7,91.7 37.6,91.7 27.4,225" fill="#4C4C4C"/>
<g transform="translate(15.35,212.9) scale(0.5)">
<path d="M19,50.2 C19,46.2 22.5,44 26.6,44 C30.7,44 34.2,46.2 34.2,50.2 L36.2,51.4 L36.2,69 C36.2,73.6 31.5,75.6 26.5,75.6 C21.5,75.6 16.8,73.6 16.8,69 L16.8,51.4 Z" fill="#4C4C4C"/>
<g fill="none" stroke="#4C4C4C" stroke-linejoin="round" stroke-linecap="butt">
<path d="M19.9,40.2 C19.3,42.2 20.2,43.8 21.8,45" stroke-width="1.3"/>
<path d="M32.3,40.2 C32.9,42.2 32,43.8 30.4,45" stroke-width="1.3"/>
<path d="M16.9,41 L14.7,44.4 L15,49.3 L19.6,50.9" stroke-width="1.6"/>
<path d="M36.3,41 L38.5,44.4 L38.2,49.3 L33.6,50.9" stroke-width="1.6"/>
<path d="M17.3,40.6 L14.2,44.6 L15.4,45.6 L18.4,41.6 Z" stroke="none" fill="#4C4C4C"/>
<path d="M35.9,40.6 L39.0,44.6 L37.8,45.6 L34.8,41.6 Z" stroke="none" fill="#4C4C4C"/>
<path d="M17.4,59.2 L13.8,61.2 L13.9,67.2" stroke-width="1.35"/>
<path d="M35.8,59.2 L39.3,61.3 L39.1,67.3" stroke-width="1.35"/>
<path d="M17.8,68.6 L14.6,72.4 L18.7,78.2" stroke-width="1.45"/>
<path d="M35.3,68.6 L38.3,72.5 L34.3,78.2" stroke-width="1.45"/>
</g>
<path d="M17.2,51.9 L26.4,56.5 L35.6,51.7" fill="none" stroke="#fff" stroke-width="0.8"/>
<path d="M25.8,56.4 L27,56.4 L26.6,70.2 L26.2,70.2 Z" fill="#fff"/>
</g>
<text transform="translate(10.1,141.3) rotate(-90) scale(1.15,1)" font-size="12.4" text-anchor="middle" fill="#111">Size (cm)</text>
<polygon points="381.4,92.9 402.3,92.9 391.8,225" fill="#7F9CFC"/>
<text transform="translate(357.4,160.85) rotate(-90) scale(1.11,1)" font-size="12.6" text-anchor="middle" fill="#111">Efficiency of</text>
<text transform="translate(372.4,159.15) rotate(-90) scale(1.123,1)" font-size="12.6" text-anchor="middle" fill="#111">Chiral Structures</text>
<text transform="translate(417.8,161.8) rotate(-90) scale(1.137,1)" font-size="10" text-anchor="middle" fill="#111">Degree of circular polarization</text>
<polygon points="86.7,283.3 191,287 297,283 297,295.5 191,291.4 86.7,295.5" fill="url(#gbar)"/>
<polygon points="465.1,283.4 571,287.1 676.6,283.4 676.6,295.9 571,291.7 465.1,295.9" fill="url(#gbar)"/>
<text x="88.5" y="293.2" font-size="11.2" font-weight="bold" fill="#fff" transform="translate(88.5,0) scale(1.18,1) translate(-88.5,0)">Dry</text>
<text x="294" y="292.9" font-size="12" font-weight="bold" fill="#000" text-anchor="end" transform="translate(294,0) scale(1.093,1) translate(-294,0)">Humid</text>
<text x="467.6" y="293.5" font-size="11.2" font-weight="bold" fill="#fff" transform="translate(467.6,0) scale(1.18,1) translate(-467.6,0)">Dry</text>
<text x="673.8" y="293.1" font-size="12" font-weight="bold" fill="#000" text-anchor="end" transform="translate(673.8,0) scale(1.093,1) translate(-673.8,0)">Humid</text>
<text x="191.6" y="314.7" font-size="12" word-spacing="1.9" text-anchor="middle" fill="#111" transform="translate(191.6,0) scale(0.99,1) translate(-191.6,0)">-1 * PC1</text>
<text x="570.4" y="314.7" font-size="12" word-spacing="1.9" text-anchor="middle" fill="#111" transform="translate(570.4,0) scale(0.99,1) translate(-570.4,0)">-1 * PC1</text>
<defs><linearGradient id="gg" x1="0" x2="1"><stop offset="0" stop-color="#3DBA5A"/><stop offset="0.5" stop-color="#8CF29A"/><stop offset="1" stop-color="#48C460"/></linearGradient><linearGradient id="gm" x1="0" x2="1"><stop offset="0" stop-color="#86D444"/><stop offset="0.45" stop-color="#F6EA34"/><stop offset="1" stop-color="#EEA424"/></linearGradient><linearGradient id="go" x1="0" x2="1"><stop offset="0" stop-color="#EEB020"/><stop offset="0.5" stop-color="#FCE638"/><stop offset="1" stop-color="#F0C020"/></linearGradient></defs>
<ellipse cx="379.4" cy="43.3" rx="2.5" ry="0.95" fill="url(#gg)" stroke="#1E7038" stroke-width="0.55"/>
<ellipse cx="379.4" cy="46.7" rx="3.7" ry="0.95" fill="url(#gg)" stroke="#1E7038" stroke-width="0.55"/>
<ellipse cx="379.4" cy="50.0" rx="5.7" ry="0.95" fill="url(#gg)" stroke="#1E7038" stroke-width="0.55"/>
<ellipse cx="379.4" cy="52.8" rx="3.8" ry="0.95" fill="url(#gg)" stroke="#1E7038" stroke-width="0.55"/>
<ellipse cx="379.4" cy="56.0" rx="2.2" ry="0.95" fill="url(#gg)" stroke="#1E7038" stroke-width="0.55"/>
<ellipse cx="379.4" cy="59.1" rx="4.4" ry="0.95" fill="url(#gg)" stroke="#1E7038" stroke-width="0.55"/>
<ellipse cx="379.4" cy="62.3" rx="6.3" ry="0.95" fill="url(#gg)" stroke="#1E7038" stroke-width="0.55"/>
<ellipse cx="379.4" cy="65.5" rx="9.2" ry="0.95" fill="url(#gg)" stroke="#1E7038" stroke-width="0.55"/>
<ellipse cx="379.4" cy="69.0" rx="5.4" ry="0.95" fill="url(#gg)" stroke="#1E7038" stroke-width="0.55"/>
<ellipse cx="392.8" cy="39.1" rx="8.5" ry="0.95" fill="url(#gm)" stroke="#5E5010" stroke-width="0.55"/>
<ellipse cx="392.8" cy="42.3" rx="6.3" ry="0.95" fill="url(#gm)" stroke="#5E5010" stroke-width="0.55"/>
<ellipse cx="392.8" cy="44.8" rx="3.6" ry="0.95" fill="url(#gm)" stroke="#5E5010" stroke-width="0.55"/>
<ellipse cx="392.8" cy="46.9" rx="2.8" ry="0.95" fill="url(#gm)" stroke="#5E5010" stroke-width="0.55"/>
<ellipse cx="392.8" cy="50.3" rx="4.0" ry="0.95" fill="url(#gm)" stroke="#5E5010" stroke-width="0.55"/>
<ellipse cx="392.8" cy="53.0" rx="6.0" ry="0.95" fill="url(#gm)" stroke="#5E5010" stroke-width="0.55"/>
<ellipse cx="392.8" cy="56.2" rx="8.7" ry="0.95" fill="url(#gm)" stroke="#5E5010" stroke-width="0.55"/>
<ellipse cx="392.8" cy="59.7" rx="6.0" ry="0.95" fill="url(#gm)" stroke="#5E5010" stroke-width="0.55"/>
<ellipse cx="392.8" cy="62.6" rx="3.6" ry="0.95" fill="url(#gm)" stroke="#5E5010" stroke-width="0.55"/>
<ellipse cx="392.8" cy="66.0" rx="2.0" ry="0.95" fill="url(#gm)" stroke="#5E5010" stroke-width="0.55"/>
<ellipse cx="392.8" cy="68.6" rx="4.0" ry="0.95" fill="url(#gm)" stroke="#5E5010" stroke-width="0.55"/>
<ellipse cx="392.8" cy="72.1" rx="6.3" ry="0.95" fill="url(#gm)" stroke="#5E5010" stroke-width="0.55"/>
<ellipse cx="392.8" cy="75.3" rx="8.3" ry="0.95" fill="url(#gm)" stroke="#5E5010" stroke-width="0.55"/>
<ellipse cx="392.8" cy="78.4" rx="6.0" ry="0.95" fill="url(#gm)" stroke="#5E5010" stroke-width="0.55"/>
<ellipse cx="392.8" cy="81.0" rx="3.2" ry="0.95" fill="url(#gm)" stroke="#5E5010" stroke-width="0.55"/>
<ellipse cx="404.9" cy="56.9" rx="1.8" ry="0.95" fill="url(#go)" stroke="#6A5010" stroke-width="0.55"/>
<ellipse cx="404.9" cy="60.0" rx="3.6" ry="0.95" fill="url(#go)" stroke="#6A5010" stroke-width="0.55"/>
<ellipse cx="404.9" cy="62.9" rx="5.5" ry="0.95" fill="url(#go)" stroke="#6A5010" stroke-width="0.55"/>
<ellipse cx="404.9" cy="66.0" rx="8.0" ry="0.95" fill="url(#go)" stroke="#6A5010" stroke-width="0.55"/>
<ellipse cx="404.9" cy="69.8" rx="5.5" ry="0.95" fill="url(#go)" stroke="#6A5010" stroke-width="0.55"/>
<ellipse cx="404.9" cy="72.9" rx="3.8" ry="0.95" fill="url(#go)" stroke="#6A5010" stroke-width="0.55"/>
<ellipse cx="404.9" cy="76.0" rx="2.2" ry="0.95" fill="url(#go)" stroke="#6A5010" stroke-width="0.55"/>
<defs><linearGradient id="gs" x1="0" x2="1"><stop offset="0" stop-color="#5FD04A"/><stop offset="0.5" stop-color="#E8F070"/><stop offset="1" stop-color="#F0E060"/></linearGradient></defs>
<ellipse cx="394.1" cy="235.9" rx="6" ry="1.15" fill="url(#gs)" stroke="#7A7A30" stroke-width="0.35"/>
<ellipse cx="394.4" cy="240.4" rx="4.4" ry="1.05" fill="url(#gs)" stroke="#7A7A30" stroke-width="0.35"/>
<ellipse cx="394.3" cy="244.8" rx="2.4" ry="0.95" fill="url(#gs)" stroke="#7A7A30" stroke-width="0.35"/>
<ellipse cx="394.1" cy="248.7" rx="6" ry="1.15" fill="url(#gs)" stroke="#7A7A30" stroke-width="0.35"/>
</svg></body></html>
